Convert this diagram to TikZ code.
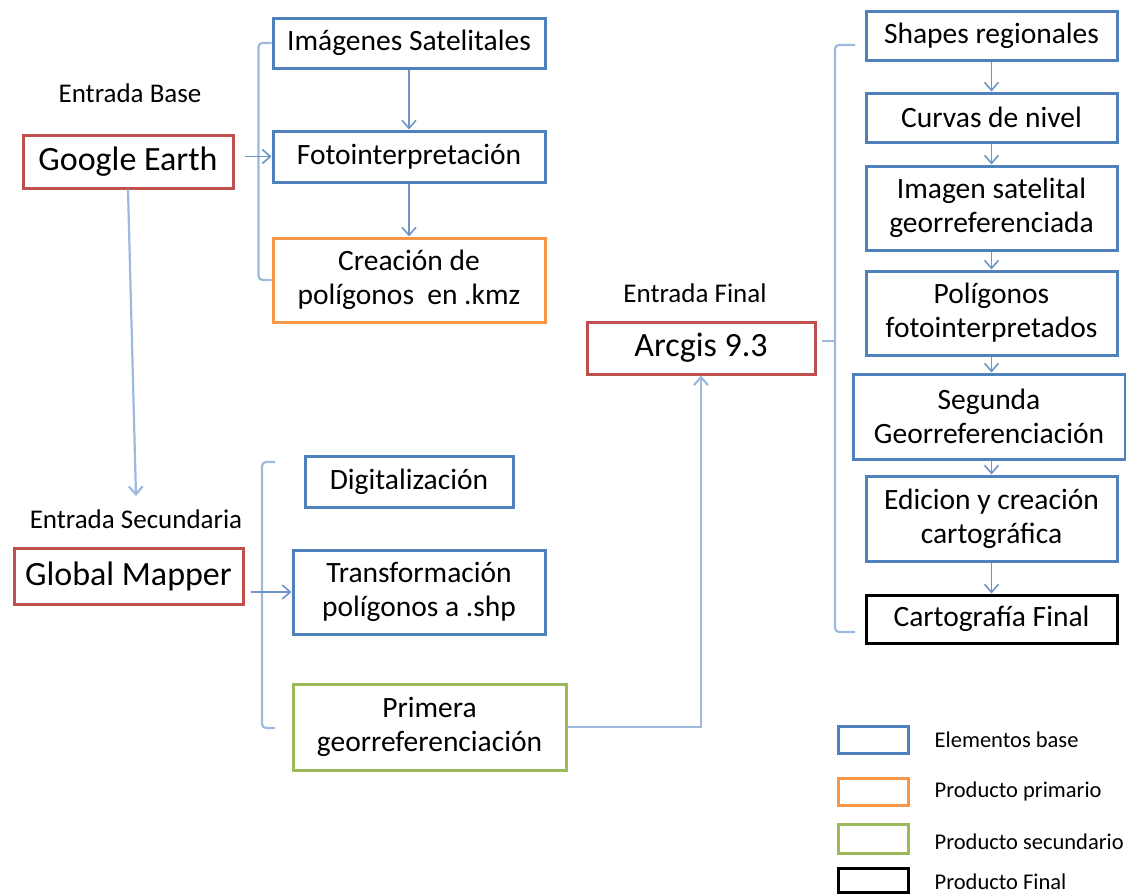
\documentclass[tikz,border=0pt]{standalone}
\usepackage{fontspec}
\setmainfont{Carlito}
\usepackage{tikz}
\usetikzlibrary{positioning}
\usetikzlibrary{arrows.meta}
\definecolor{azul}{HTML}{4F81BD}
\definecolor{rojo}{HTML}{C0504D}
\definecolor{naranja}{HTML}{F79646}
\definecolor{verde}{HTML}{9BBB59}
\definecolor{enlace}{HTML}{6E95C8}
\definecolor{llave}{HTML}{9DB9DD}

\begin{document}
\begin{tikzpicture}
    [x=1pt, y=-1pt,
     every node/.style={align=center},
     caja/.style={draw=azul, line width=3pt, fill=white, inner sep=0pt,
       font=\fontsize{29.5}{34}\selectfont},
     entrada/.style={caja, draw=rojo, font=\fontsize{34}{40}\selectfont},
     etiqueta/.style={font=\fontsize{27}{30}\selectfont},
     leyenda/.style={draw=#1, line width=3pt, minimum width=70pt, inner sep=0pt},
     leytexto/.style={font=\fontsize{22.5}{26}\selectfont, inner sep=0pt},
     flecha/.style={->, >={Straight Barb[length=8pt, width=14pt]}, draw=enlace, line width=1.6pt},
     larga/.style={flecha, draw=llave, line width=2.2pt},
     llave/.style={draw=llave, line width=2.2pt, rounded corners=4pt}]
    \useasboundingbox (0,0) rectangle (1126,894);

    % entrada base
    \node[etiqueta] (lbase) at (130,93) {Entrada Base};
    \node[entrada, minimum width=210pt, minimum height=53pt] (ge) at (128,161.5) {Google Earth};
    \node[caja, minimum width=272pt, minimum height=50pt] (imgsat) at (409,43) {Im\'agenes Satelitales};
    \node[caja, minimum width=272pt, minimum height=51pt] (foto) at (409,156.5) {Fotointerpretaci\'on};
    \node[caja, draw=naranja, minimum width=272pt, minimum height=84pt] (kmz) at (409,280) {Creaci\'on de\\pol\'igonos~ en .kmz};

    % entrada secundaria
    \node[etiqueta] (lsec) at (136,519) {Entrada Secundaria};
    \node[entrada, minimum width=229pt, minimum height=56pt] (gm) at (128.5,576) {Global Mapper};
    \node[caja, minimum width=208pt, minimum height=51pt] (digi) at (409,481.5) {Digitalizaci\'on};
    \node[caja, minimum width=252pt, minimum height=84pt] (trans) at (419,592) {Transformaci\'on\\pol\'igonos a .shp};
    \node[caja, draw=verde, minimum width=273pt, minimum height=86pt] (prim) at (429.5,727) {Primera\\georreferenciaci\'on};

    % entrada final
    \node[etiqueta] (lfin) at (695,293) {Entrada Final};
    \node[entrada, minimum width=228pt, minimum height=52pt] (arc) at (701,348) {Arcgis 9.3};
    \node[caja, minimum width=251pt, minimum height=49pt] (shp) at (991.5,35.5) {Shapes regionales};
    \node[caja, minimum width=251pt, minimum height=49pt] (curv) at (991.5,117.5) {Curvas de nivel};
    \node[caja, minimum width=251pt, minimum height=84pt] (imgg) at (991.5,208) {Imagen satelital\\georreferenciada};
    \node[caja, minimum width=251pt, minimum height=84pt] (polf) at (991.5,313) {Pol\'igonos\\fotointerpretados};
    \node[caja, minimum width=272pt, minimum height=85pt] (seg) at (989,416.5) {Segunda\\Georreferenciaci\'on};
    \node[caja, minimum width=251pt, minimum height=85pt] (edic) at (991.5,518.5) {Edicion y creaci\'on\\cartogr\'afica};
    \node[caja, draw=black, minimum width=251pt, minimum height=48pt] (cfin) at (991.5,619) {Cartograf\'ia Final};

    % leyenda
    \node[leyenda=azul, minimum height=27pt] (leg1) at (873,739.5) {};
    \node[leyenda=naranja, minimum height=27pt] (leg2) at (873,791.5) {};
    \node[leyenda=verde, minimum height=29pt] (leg3) at (873,838.5) {};
    \node[leyenda=black, minimum height=24pt] (leg4) at (873,880) {};
    \node[leytexto, right=25pt of leg1] (ley1) {Elementos base};
    \node[leytexto, right=25pt of leg2] (ley2) {Producto primario};
    \node[leytexto, right=25pt of leg3, yshift=-3pt] (ley3) {Producto secundario};
    \node[leytexto, right=25pt of leg4, yshift=-2pt] (ley4) {Producto Final};

    \coordinate (b2top) at (275,462);
    \coordinate (b2bot) at (275,728);
    \coordinate (b3top) at (855,45);
    \coordinate (b3bot) at (855,632);
    \coordinate (b3mid) at (835,341);

    \draw [llave] (imgsat.west) -- ++(-13,0) |- (kmz.west);
    \draw [llave] (b2top) -- ++(-13,0) |- (b2bot);
    \draw [llave] (b3top) -- ++(-20,0) |- (b3bot);
    \draw [llave] ([xshift=5pt]arc.east |- b3mid) -- (b3mid);

    \draw [flecha] ([xshift=10pt]ge.east |- foto.west) -- (foto.west);
    \draw [flecha] ([xshift=6pt]gm.east |- trans.west) -- (trans.west);
    \draw [flecha] (imgsat) -- (foto);
    \draw [flecha] (foto) -- (kmz);
    \draw [larga] (ge.south) -- ([yshift=10pt]lsec.north);
    \draw [larga] (prim.east) -| (arc.south);

    \draw [flecha] (shp) -- (curv);
    \draw [flecha] (curv) -- (imgg);
    \draw [flecha] (imgg) -- (polf);
    \draw [flecha] (polf.south) -- (polf.south |- seg.north);
    \draw [flecha] (seg.south -| edic.north) -- (edic.north);
    \draw [flecha] (edic) -- (cfin);
  \end{tikzpicture}
\end{document}
